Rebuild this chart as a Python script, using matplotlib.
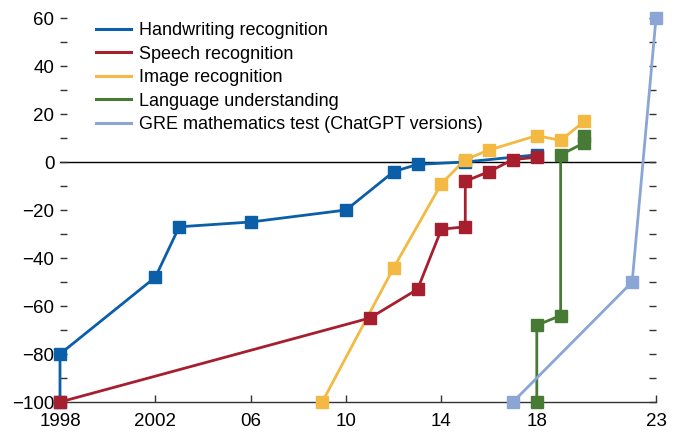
import matplotlib
matplotlib.use("Agg")
import matplotlib.pyplot as plt
from matplotlib.ticker import MultipleLocator

plt.rcParams['font.family'] = ['Liberation Sans Narrow', 'Liberation Sans', 'DejaVu Sans']

# data (year, score relative to human baseline)
hand_x = [1998, 1998, 2002, 2003, 2006, 2010, 2012, 2013, 2015, 2018]
hand_y = [-100, -80, -48, -27, -25, -20, -4, -1, 0, 3]

speech_x = [1998, 2011, 2013, 2014, 2015, 2015, 2016, 2017, 2018]
speech_y = [-100, -65, -53, -28, -27, -8, -4, 1, 2]

image_x = [2009, 2012, 2014, 2015, 2016, 2018, 2019, 2020]
image_y = [-100, -44, -9, 1, 5, 11, 9, 17]

lang_x = [2018, 2018, 2019, 2019, 2020, 2020]
lang_y = [-100, -68, -64, 3, 8, 11]

gre_x = [2017, 2022, 2023]
gre_y = [-100, -50, 60]

series = [
    ("Handwriting recognition", hand_x, hand_y, "#0b5ea8"),
    ("Speech recognition", speech_x, speech_y, "#a71e2f"),
    ("Image recognition", image_x, image_y, "#f3b943"),
    ("Language understanding", lang_x, lang_y, "#477a34"),
    ("GRE mathematics test (ChatGPT versions)", gre_x, gre_y, "#8ba5d5"),
]

fig = plt.figure(figsize=(6.78, 4.32), dpi=100)
ax = fig.add_axes([60 / 678, 1 - 402 / 432, 596 / 678, 384 / 432])

ax.axhline(0, color="black", lw=1.0, zorder=1)

for label, xs, ys, col in series:
    ax.plot(xs, ys, color=col, lw=2.0, zorder=2, clip_on=False)
    ax.plot(xs, ys, ls="none", marker="s", ms=8, color=col, zorder=3,
            clip_on=False)
    ax.plot([], [], color=col, lw=2.2, label=label)

ax.set_xlim(1998, 2023)
ax.set_ylim(-100, 60)

ax.set_xticks([1998, 2002, 2006, 2010, 2014, 2018, 2023])
ax.set_xticklabels(["1998", "2002", "06", "10", "14", "18", "23"])
ax.yaxis.set_major_locator(MultipleLocator(20))
ax.yaxis.set_minor_locator(MultipleLocator(10))

for s in ["top", "left", "right"]:
    ax.spines[s].set_visible(False)
ax.spines["bottom"].set_color("#333333")
ax.spines["bottom"].set_linewidth(1.0)

ax.tick_params(axis="x", direction="in", length=5, width=1, color="#333333",
               labelsize=13.5, pad=8)
ax.tick_params(axis="y", which="both", direction="in", length=5, width=1,
               color="#333333", labelsize=13.5, pad=4, right=True)

handles, labels = ax.get_legend_handles_labels()
leg = ax.legend(handles[-5:], labels[-5:], loc="upper left",
                bbox_to_anchor=(0.048, 1.008), frameon=False, fontsize=13,
                handlelength=1.95, handletextpad=0.45, labelspacing=0.36,
                borderaxespad=0)

fig.savefig("out.png", dpi=100)
